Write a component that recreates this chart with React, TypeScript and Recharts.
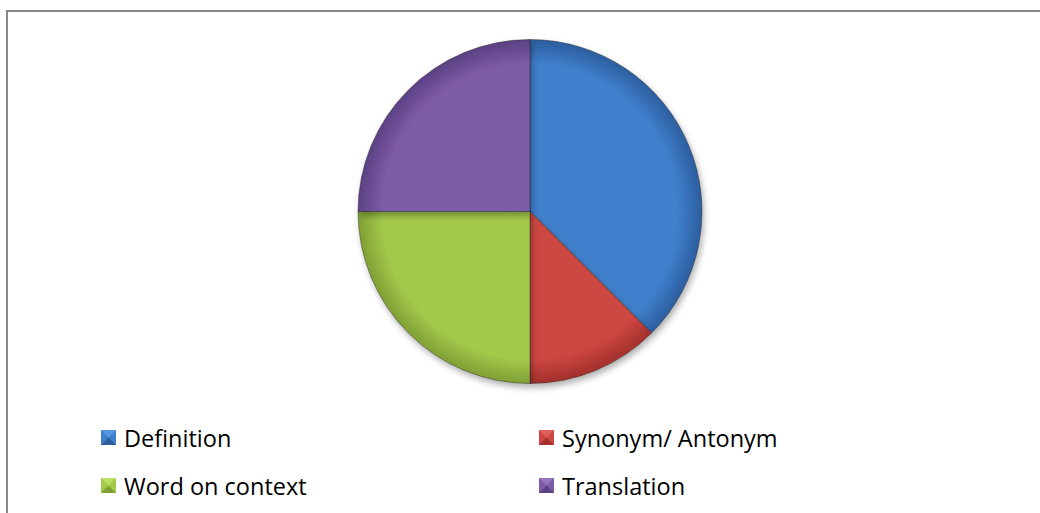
import { Cell, Legend, Pie, PieChart } from "recharts";

const categories = ["Definition", "Synonym/ Antonym", "Word on context", "Translation"];
const shares = [3, 1, 2, 2];
const colors = ["#3f7fcb", "#cd4642", "#a3c94b", "#7d5ba6"];
const lightColors = ["#5597e3", "#e0605b", "#badf62", "#9575c0"];
const darkColors = ["#2c5e9f", "#a3302c", "#809f35", "#5b4083"];

const data = categories.map((name, i) => ({ name, value: shares[i] }));

function LegendMarker({ i }: { i: number }) {
  return (
    <svg width={15} height={15} style={{ display: "block" }}>
      <rect x={0} y={0} width={15} height={15} fill={colors[i]} />
      <polygon points="0,0 15,0 7.5,7.5" fill={lightColors[i]} />
      <polygon points="0,15 15,15 7.5,7.5" fill={darkColors[i]} />
    </svg>
  );
}

function ChartLegend() {
  const cols = [101, 539];
  const rows = [437.5, 485.5];
  return (
    <div style={{ position: "relative", width: 1040, height: 513 }}>
      {categories.map((name, i) => (
        <div
          key={name}
          style={{
            position: "absolute",
            left: cols[i % 2],
            top: rows[Math.floor(i / 2)] - 16,
            height: 32,
            display: "flex",
            alignItems: "center",
            gap: 8,
            fontFamily: "'Open Sans', sans-serif",
            fontSize: 23.5,
            color: "#000",
            whiteSpace: "nowrap",
          }}
        >
          <LegendMarker i={i} />
          <span>{name}</span>
        </div>
      ))}
    </div>
  );
}

export default function App() {
  return (
    <div style={{ position: "fixed", left: 0, top: 0, width: 1040, height: 513, background: "#fff", overflow: "hidden" }}>
      <div
        style={{
          position: "absolute",
          left: 6,
          top: 10,
          width: 1060,
          height: 540,
          border: "2px solid #898989",
          boxSizing: "border-box",
        }}
      />
      <div style={{ position: "absolute", left: 0, top: 0 }}>
        <PieChart width={1040} height={513} margin={{ top: 0, right: 0, bottom: 0, left: 0 }}>
          <defs>
            {colors.map((c, i) => (
              <radialGradient key={c} id={`slice${i}`} cx="530" cy="211.5" r="172" gradientUnits="userSpaceOnUse">
                <stop offset="0%" stopColor={colors[i]} />
                <stop offset="86%" stopColor={colors[i]} />
                <stop offset="100%" stopColor={darkColors[i]} />
              </radialGradient>
            ))}
            <filter id="pieShadow" x="-20%" y="-20%" width="140%" height="140%">
              <feDropShadow dx="2" dy="4" stdDeviation="3" floodColor="#000" floodOpacity="0.3" />
            </filter>
          </defs>
          <Pie
            data={data}
            dataKey="value"
            nameKey="name"
            cx={530}
            cy={211.5}
            outerRadius={172}
            innerRadius={0}
            startAngle={90}
            endAngle={-270}
            stroke="#2a2a2a"
            strokeOpacity={0.45}
            strokeWidth={1}
            isAnimationActive={false}
            style={{ filter: "url(#pieShadow)" }}
          >
            {data.map((d, i) => (
              <Cell key={d.name} fill={`url(#slice${i})`} />
            ))}
          </Pie>
          <Legend
            content={() => <ChartLegend />}
            wrapperStyle={{ position: "absolute", left: 0, top: 0, width: 1040, height: 513 }}
          />
        </PieChart>
      </div>
    </div>
  );
}
